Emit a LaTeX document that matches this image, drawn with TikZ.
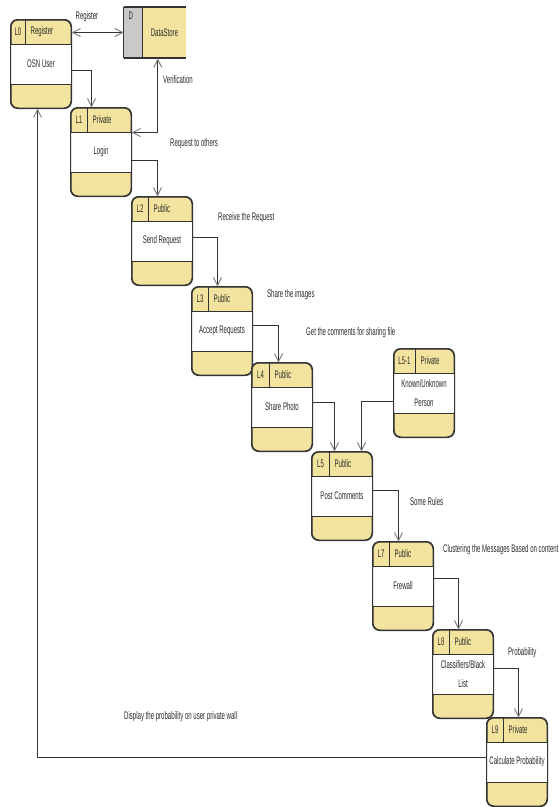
\documentclass[tikz,border=0pt]{standalone}
\usepackage{fontspec}
\setmainfont{Liberation Sans}[FakeStretch=0.55]
\usetikzlibrary{arrows.meta,calc}
\definecolor{boxyellow}{HTML}{F2E49E}
\definecolor{dsgray}{HTML}{C9C9C9}
\definecolor{linecol}{HTML}{333333}
\definecolor{headcol}{HTML}{808080}
\definecolor{txtcol}{HTML}{2A2A2A}
\tikzset{
 pbox/.style={rectangle, rounded corners=7pt, minimum width=60pt, minimum height=88pt, inner sep=0pt, fill=boxyellow, draw=linecol, line width=1pt},
 outline/.style={draw=linecol, line width=1pt},
 txt/.style={font=\fontsize{11}{19}\selectfont, text=txtcol, inner sep=0pt, align=center},
 flow/.style={draw=linecol, line width=1pt, -{Straight Barb[length=8pt,width=8pt,color=headcol]}},
 flowboth/.style={draw=linecol, line width=1pt, {Straight Barb[length=8pt,width=8pt,color=headcol]}-{Straight Barb[length=8pt,width=8pt,color=headcol]}},
}
\newcommand\procbox[7]{%
 \node[pbox] (#1) at (#2+30,#3+44) {};
 \fill[white] ([yshift=-25pt]#1.north west) rectangle ([yshift=24pt]#1.south east);
 \draw[outline] ([yshift=-25pt]#1.north west) -- ([yshift=-25pt]#1.north east);
 \draw[outline] ([yshift=24pt]#1.south west) -- ([yshift=24pt]#1.south east);
 \draw[outline] ([xshift=#7pt]#1.north west) -- ([xshift=#7pt,yshift=-25pt]#1.north west);
 \draw[outline, rounded corners=7pt] (#1.north west) rectangle (#1.south east);
 \node[txt] (#1id) at ([xshift=0.5*#7pt, yshift=-12.5pt]#1.north west) {#4};
 \node[txt, anchor=west] (#1type) at ([xshift=#7pt+5pt, yshift=-12.5pt]#1.north west) {#5};
 \node[txt] (#1main) at ([yshift=-44.5pt]#1.north) {#6};
}
\begin{document}
\begin{tikzpicture}[x=1pt,y=-1pt]
\useasboundingbox (0,0) rectangle (558,807);
\fill[white] (0,0) rectangle (558,807);

% Data store
\node[minimum width=62pt, minimum height=51pt, inner sep=0pt] (DS) at (155,32.5) {};
\fill[dsgray] (DS.north west) rectangle ([xshift=19pt]DS.south west);
\fill[boxyellow] ([xshift=19pt]DS.north west) rectangle (DS.south east);
\draw[outline] ([xshift=19pt]DS.north west) -- ([xshift=19pt]DS.south west);
\draw[outline] (DS.north west) -- (DS.south west);
\draw[linecol, line width=1.8pt] (DS.north west) -- (DS.north east);
\draw[linecol, line width=1.8pt] (DS.south west) -- (DS.south east);
\node[txt] (DSid) at ([xshift=7pt,yshift=-9pt]DS.north west) {D};
\node[txt] (DSname) at ($([xshift=19pt]DS.west)!0.5!(DS.east)$) {DataStore};

\procbox{L0}{11}{20}{L0}{Register}{OSN User}{15}
\procbox{L1}{71}{108}{L1}{Private}{Login}{17}
\procbox{L2}{132}{197}{L2}{Public}{Send Request}{17}
\procbox{L3}{192}{287}{L3}{Public}{Accept Requests}{17}
\procbox{L4}{252}{363}{L4}{Public}{Share Photo}{18}
\procbox{L5}{312}{452}{L5}{Public}{Post Comments}{18}
\procbox{L51}{394}{349}{L5-1}{Private}{Known/Unknown\\Person}{22}
\procbox{L7}{373}{542}{L7}{Public}{Frewall}{17}
\procbox{L8}{433}{630}{L8}{Public}{Classifiers/Black\\List}{17}
\procbox{L9}{487}{718}{L9}{Private}{Calculate Probability}{17}

% connectors
\draw[flowboth] (L0.east |- DS.west) -- (DS.west);
\draw[flowboth] ([yshift=-25pt]L1.north east) -| ([xshift=34pt]DS.south west);
\draw[flow] ([yshift=-6pt]L0.east) -| ([xshift=21pt]L1.north west);
\draw[flow] ([yshift=-8pt]L1.east) -| ([xshift=26pt]L2.north west);
\draw[flow] ([yshift=4pt]L2.east) -| ([xshift=26pt]L3.north west);
\draw[flow] ([yshift=6pt]L3.east) -| ([xshift=27pt]L4.north west);
\draw[flow] ([yshift=5pt]L4.east) -| ([xshift=23pt]L5.north west);
\draw[flow] ([yshift=-8pt]L51.west) -| ([xshift=50pt]L5.north west);
\draw[flow] ([yshift=6pt]L5.east) -| ([xshift=26pt]L7.north west);
\draw[flow] ([yshift=8pt]L7.east) -| ([xshift=26pt]L8.north west);
\draw[flow] ([yshift=6pt]L8.east) -| ([xshift=32pt]L9.north west);
\draw[flow] ([yshift=5pt]L9.west) -| ([xshift=27pt]L0.south west);

% labels
\node[txt] (tReg) at (87,17) {Register};
\node[txt, anchor=west] (tVer) at (163,80) {Verification};
\node[txt, anchor=west] (tReq) at (170,144) {Request to others};
\node[txt, anchor=west] (tRec) at (218,218) {Receive the Request};
\node[txt, anchor=west] (tSha) at (267,295) {Share the images};
\node[txt, anchor=west] (tGet) at (306,333) {Get the comments for sharing file};
\node[txt, anchor=west] (tRul) at (410,502) {Some Rules};
\node[txt, anchor=west] (tClu) at (443,550) {Clustering the Messages Based on content};
\node[txt, anchor=west] (tPro) at (508,653) {Probability};
\node[txt, anchor=west] (tDis) at (124,717) {Display the probability on user private wall};
\end{tikzpicture}
\end{document}
